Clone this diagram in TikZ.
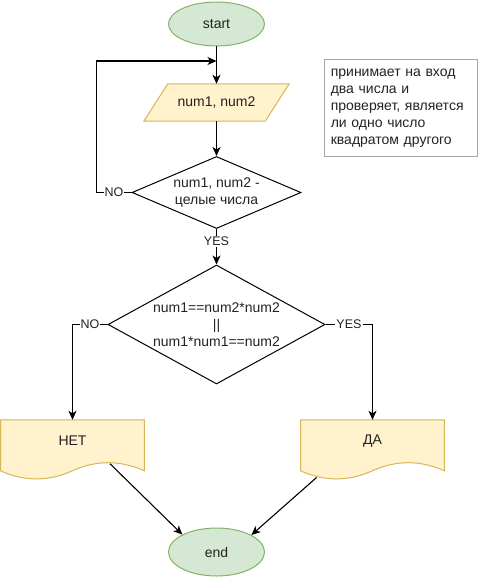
\documentclass[tikz,border=0pt]{standalone}
\usepackage{fontspec}
\setmainfont{Liberation Sans}
\usetikzlibrary{shapes.geometric,arrows.meta,backgrounds,calc}

\definecolor{termfill}{HTML}{D5E8D4}
\definecolor{termline}{HTML}{82B366}
\definecolor{iofill}{HTML}{FFF2CC}
\definecolor{ioline}{HTML}{D6B656}
\definecolor{notebd}{HTML}{A6A6A6}
\definecolor{ink}{HTML}{222222}

% document symbol (wavy bottom edge) drawn behind a rectangle node
\newcommand\wavedoc[1]{%
  \filldraw[fill=iofill, draw=ioline, line width=1pt]
    (#1.north west) -- (#1.north east) -- ([shift={(0,51)}]#1.north east)
    .. controls ([shift={(119.6,40.2)}]#1.north west) and ([shift={(95.7,40.2)}]#1.north west)
    .. ([shift={(71.75,51)}]#1.north west)
    .. controls ([shift={(47.8,61.8)}]#1.north west) and ([shift={(23.9,61.8)}]#1.north west)
    .. ([shift={(0,51)}]#1.north west) -- cycle;}

\begin{document}
\begin{tikzpicture}[x=1pt,y=-1pt,
  font=\fontsize{14}{17}\selectfont, text=ink,
  terminal/.style={ellipse, draw=termline, fill=termfill, line width=1pt,
    minimum width=96pt, minimum height=48pt, inner sep=0pt},
  decision/.style={diamond, draw=black, line width=1pt, inner sep=0pt},
  iobox/.style={rectangle, inner sep=0pt, minimum width=145pt, minimum height=37pt},
  docbox/.style={rectangle, inner sep=0pt, minimum width=143.5pt, minimum height=60pt},
  flow/.style={draw=black, line width=1.1pt, -{Stealth[length=9pt,width=8pt,inset=2.5pt]}},
  tag/.style={fill=white, inner sep=1pt, font=\fontsize{12.5}{14}\selectfont},
  note/.style={draw=notebd, line width=1pt, minimum width=153pt, minimum height=96pt,
    inner xsep=6.5pt, text width=140pt, align=left},
]
\useasboundingbox (0,0) rectangle (482,578);

% terminals
\node[terminal, minimum height=44pt] (start) at (216.5,24) {start};
\node[terminal] (fin) at (216.5,552) {end};

% input
\node[iobox] (in) at (216.5,102.5) {num1, num2};
\begin{scope}[on background layer]
  \filldraw[fill=iofill, draw=ioline, line width=1pt]
    (in.south west) -- ([xshift=-24pt]in.south east) -- (in.north east)
    -- ([xshift=24pt]in.north west) -- cycle;
\end{scope}

% decisions
\node[decision, minimum width=169pt, minimum height=72pt] (chk) at (216.5,192.5) {};
\node[align=center] (chkt) at (216.5,192.5) {num1, num2 -\\целые числа};

\node[decision, minimum width=217pt, minimum height=119pt] (sq) at (216.5,324.5) {};
\node[align=center] (sqt) at (216.5,324.7) {num1==num2*num2\\||\\num1*num1==num2};

% outputs
\node[docbox] (no) at (72.5,450) {};
\node[docbox] (yes) at (372.5,450) {};
\begin{scope}[on background layer]
  \wavedoc{no}
  \wavedoc{yes}
\end{scope}
\node (not) at ([shift={(0,-9)}]no.center) {НЕТ};
\node (yest) at ([shift={(0,-9)}]yes.center) {ДА};

% comment box
\node[note] (info) at (400.8,108) {принимает на вход\\два числа и\\проверяет, является\\ли одно число\\квадратом другого};

% connectors
\coordinate (join) at (216.5,61);
\coordinate (noout) at ([shift={(109.5,44)}]no.north west);
\coordinate (yesout) at ([shift={(16,57.7)}]yes.north west);

\draw[flow] (start.south) -- (in.north);
\draw[flow] (in.south) -- (chk.north);
\draw[flow] (chk.west) -- node[tag]{NO} ++(-35,0) |- (join);
\draw[flow] (chk.south) -- node[tag, pos=0.35]{YES} (sq.north);
\draw[flow] (sq.west) -| node[tag, pos=0.25]{NO} (no.north);
\draw[flow] (sq.east) -| node[tag, pos=0.25]{YES} (yes.north);
\draw[flow] (noout) -- (fin.153);
\draw[flow] (yesout) -- (fin.26);
\end{tikzpicture}
\end{document}
